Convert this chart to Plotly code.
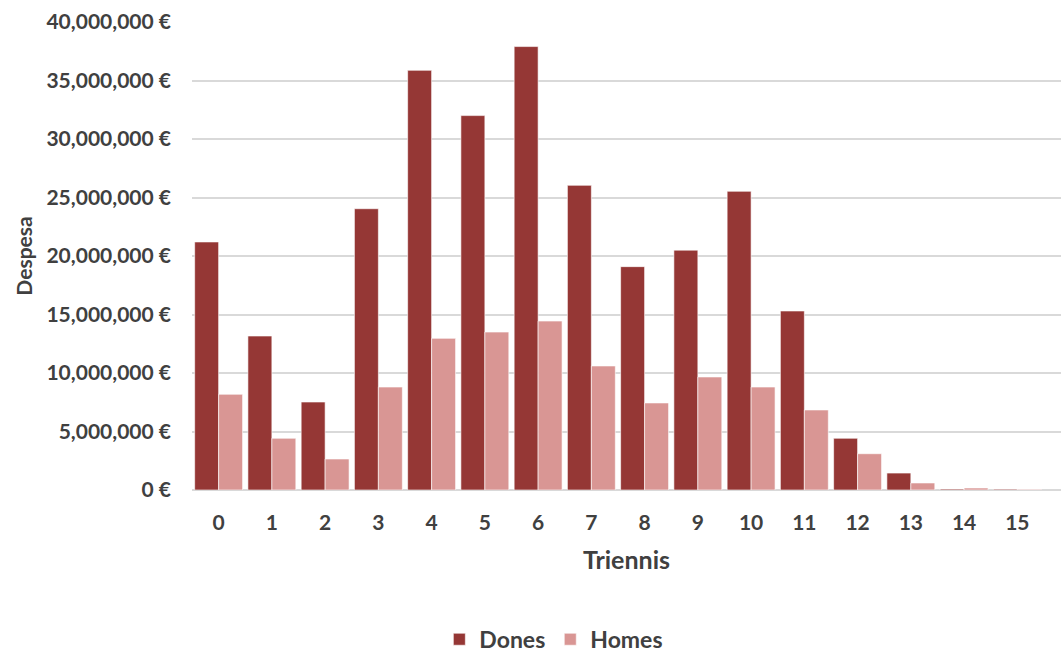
import plotly.graph_objects as go

categories = [str(i) for i in range(16)]
dones = [21.2e6, 13.16e6, 7.52e6, 24.04e6, 35.87e6, 32.0e6, 37.9e6, 26.04e6,
         19.09e6, 20.5e6, 25.53e6, 15.3e6, 4.42e6, 1.45e6, 0.08e6, 0.07e6]
homes = [8.18e6, 4.42e6, 2.65e6, 8.8e6, 12.96e6, 13.5e6, 14.44e6, 10.6e6,
         7.44e6, 9.66e6, 8.8e6, 6.84e6, 3.1e6, 0.6e6, 0.17e6, 0.06e6]
y_ticks = [0, 5e6, 10e6, 15e6, 20e6, 25e6, 30e6, 35e6, 40e6]
y_ticktext = ["0 \u20ac", "5,000,000 \u20ac", "10,000,000 \u20ac", "15,000,000 \u20ac",
              "20,000,000 \u20ac", "25,000,000 \u20ac", "30,000,000 \u20ac",
              "35,000,000 \u20ac", "40,000,000 \u20ac"]

FONT = "Lato"
TXT = "#404040"

fig = go.Figure()
fig.add_trace(go.Bar(x=list(range(16)), y=dones, name="Dones",
                     marker=dict(color="#953735", line=dict(color="#ffffff", width=0.6))))
fig.add_trace(go.Bar(x=list(range(16)), y=homes, name="Homes",
                     marker=dict(color="#D99694", line=dict(color="#ffffff", width=0.6))))

fig.update_layout(
    width=1061, height=655,
    margin=dict(l=192, r=0, t=22, b=165),
    paper_bgcolor="white", plot_bgcolor="white",
    barmode="group", bargap=0.1, bargroupgap=0,
    font=dict(family=FONT, color=TXT, size=18),
    showlegend=True,
    legend=dict(orientation="h", xref="container", yref="container",
                x=0.522, y=0.024, xanchor="center", yanchor="middle",
                font=dict(family=FONT, size=23, color=TXT, weight="bold"),
                itemwidth=30, tracegroupgap=0),
    xaxis=dict(
        tickmode="array", tickvals=list(range(16)), ticktext=categories,
        range=[-0.5, 15.82], showgrid=False, zeroline=False,
        showline=False, ticks="", ticklen=0, automargin=False,
        ticklabelstandoff=18,
        tickfont=dict(family=FONT, size=21, color=TXT, weight="bold"),
        title=dict(text="Triennis", standoff=18,
                   font=dict(family=FONT, size=25, color=TXT, weight="bold")),
    ),
    yaxis=dict(
        range=[0, 40e6], tickmode="array", tickvals=y_ticks, ticktext=y_ticktext,
        showgrid=True, gridcolor="#d9d9d9", gridwidth=1.5,
        zeroline=True, zerolinecolor="#d9d9d9", zerolinewidth=1.5,
        showline=False, ticks="", ticklabelstandoff=20, automargin=False,
        tickfont=dict(family=FONT, size=21, color=TXT, weight="bold"),
        title=dict(text="Despesa", standoff=8,
                   font=dict(family=FONT, size=21, color=TXT, weight="bold")),
    ),
)

fig.write_html("out.html", config={"displayModeBar": False},
               post_script="document.body.style.margin='0';document.body.style.overflow='hidden';")
